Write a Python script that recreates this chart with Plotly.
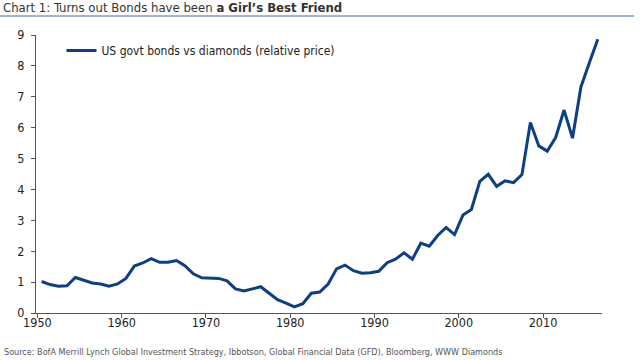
import plotly.graph_objects as go

years = list(range(1950, 2017))
values = [
    1.02, 0.92, 0.87, 0.88, 1.15, 1.05, 0.97, 0.94, 0.87, 0.94,
    1.12, 1.52, 1.62, 1.76, 1.64, 1.64, 1.70, 1.53, 1.27, 1.14,
    1.14, 1.12, 1.04, 0.78, 0.71, 0.78, 0.85, 0.64, 0.43, 0.32,
    0.20, 0.30, 0.64, 0.68, 0.94, 1.43, 1.55, 1.37, 1.29, 1.30,
    1.35, 1.63, 1.74, 1.95, 1.74, 2.26, 2.16, 2.51, 2.77, 2.54,
    3.17, 3.35, 4.26, 4.49, 4.10, 4.28, 4.22, 4.48, 6.17, 5.41,
    5.24, 5.68, 6.57, 5.66, 7.32, 8.10, 8.86,
]
x_ticks = [1950, 1960, 1970, 1980, 1990, 2000, 2010]
y_ticks = list(range(0, 10))
series_name = "US govt bonds vs diamonds (relative price)"

# plot annual values at mid-year
x_vals = [y + 0.5 for y in years]

COND = "DejaVu Sans Condensed, Liberation Sans Narrow, Arial Narrow, sans-serif"
PW = 640 - 36 - 38
PH = 278

fig = go.Figure()
fig.add_trace(go.Scatter(
    x=x_vals, y=values, mode="lines", name=series_name,
    line=dict(color="#0d3f85", width=3),
))

fig.update_layout(
    width=640, height=360,
    margin=dict(l=36, r=38, t=35, b=47),
    paper_bgcolor="white", plot_bgcolor="white",
    showlegend=True,
    legend=dict(x=0.045, y=0.996, xanchor="left", yanchor="top",
                font=dict(family=COND, size=12, color="#222222"),
                bgcolor="rgba(0,0,0,0)", itemwidth=30),
    xaxis=dict(range=[1949.83, 2017.0], tickmode="array", tickvals=x_ticks,
               showgrid=False, zeroline=False, showline=True, linecolor="#555555",
               linewidth=1, ticks="outside", ticklen=4, tickcolor="#555555",
               ticklabelstandoff=-6,
               tickfont=dict(family=COND, size=12.5, color="#222222")),
    yaxis=dict(range=[0, 9], tickmode="array", tickvals=y_ticks,
               showgrid=False, zeroline=False, showline=True, linecolor="#555555",
               linewidth=1, ticks="outside", ticklen=4, tickcolor="#555555",
               ticklabelstandoff=4,
               tickfont=dict(family=COND, size=12.5, color="#222222")),
    shapes=[dict(type="line", xref="paper", yref="paper",
                 x0=-36 / PW, x1=(634 - 36) / PW,
                 y0=1.0 + (35 - 16) / PH, y1=1.0 + (35 - 16) / PH,
                 line=dict(color="#7a9bd6", width=1.5))],
    annotations=[
        dict(text="Chart 1: Turns out Bonds have been <b>a Girl\u2019s Best Friend</b>",
             xref="paper", yref="paper", x=-34 / PW, y=1.0 + (35 - 8) / PH,
             xanchor="left", yanchor="middle", showarrow=False, borderpad=0,
             font=dict(family=COND, size=13, color="#333333")),
        dict(text="Source: BofA Merrill Lynch Global Investment Strategy, Ibbotson, Global Financial Data (GFD), Bloomberg, WWW Diamonds",
             xref="paper", yref="paper", x=-34 / PW, y=-(344 - 312.5) / PH,
             xanchor="left", yanchor="top", showarrow=False,
             font=dict(family=COND, size=9, color="#555555")),
    ],
)

fig.write_html("out.html", config={"displayModeBar": False},
               post_script="document.body.style.margin='0';")
